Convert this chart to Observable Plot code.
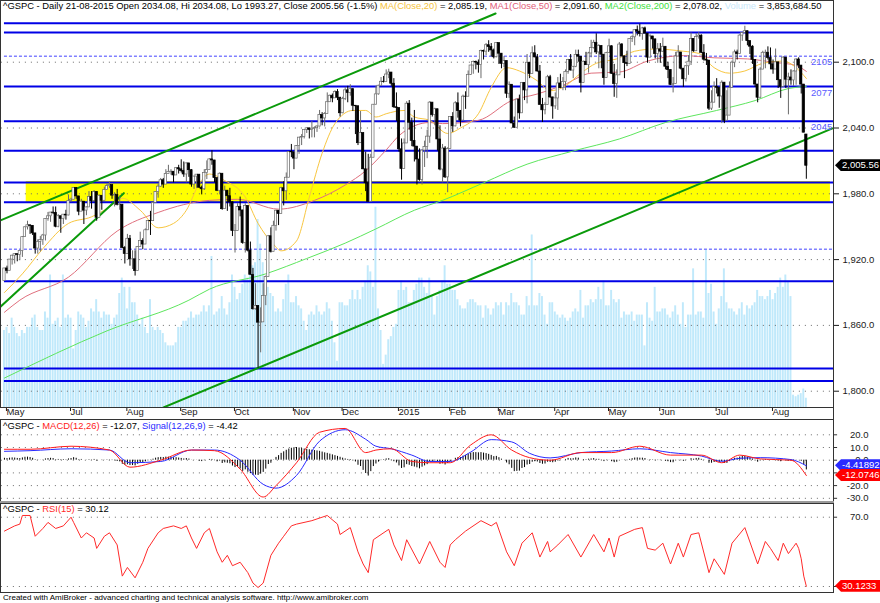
<!DOCTYPE html>
<html><head><meta charset="utf-8">
<script src="https://cdn.jsdelivr.net/npm/d3@7"></script>
<script src="https://cdn.jsdelivr.net/npm/@observablehq/plot@0.6"></script>
<style>
html,body{margin:0;padding:0;background:#fff;}
#wrap{position:relative;width:880px;height:603px;overflow:hidden;font-family:'Liberation Sans',Arial,Helvetica,sans-serif;}
.layer{position:absolute;left:0;}
.ttl{position:absolute;left:3px;font-size:9.4px;line-height:12px;white-space:nowrap;color:#000;}
.tag{position:absolute;left:835px;width:45px;height:12px;line-height:12px;font-size:9.5px;color:#fff;padding-left:7px;box-sizing:border-box;clip-path:polygon(0 50%,6px 0,100% 0,100% 100%,6px 100%);white-space:nowrap;}
.vline{position:absolute;left:833px;top:0;width:1px;height:593px;background:#333;}
.sep{position:absolute;left:0;top:501px;width:834px;height:2px;background:#9a9a9a;}
.foot{position:absolute;left:3px;top:593px;font-size:8px;line-height:10px;color:#000;white-space:nowrap;}
</style></head>
<body><div id="wrap"></div>
<script>
const FONT = "'Liberation Sans', Arial, Helvetica, sans-serif";

// ---------- price bars (daily, 27-05-2014 .. 21-08-2015) ----------
const closes = [1911.91,1909.78,1920.03,1923.57,
1924.97,1924.24,1927.88,1940.46,1949.44,1951.27,1950.79,1943.89,1930.11,1936.16,1937.78,1941.99,1956.98,1959.48,1962.87,1962.61,1949.98,1959.53,1957.22,1960.96,1960.23,
1973.32,1974.62,1985.44,1977.65,1963.71,1972.83,1964.68,1967.57,1977.10,1973.28,1981.57,1958.12,1978.22,1973.63,1983.53,1987.01,1987.98,1978.34,1978.91,1969.95,1970.07,1930.67,
1925.15,1938.99,1920.21,1920.24,1909.57,1931.59,1936.92,1933.75,1946.72,1955.18,1955.06,1971.74,1981.60,1986.51,1992.37,1988.40,1997.92,2000.02,2000.12,1996.74,2003.37,
2002.28,2000.72,1997.65,2007.71,2001.54,1988.44,1995.69,1997.45,1985.54,1984.13,1998.98,2001.57,2011.36,2010.40,1994.29,1982.77,1998.30,1965.99,1982.85,1977.80,1972.29,
1946.16,1946.17,1967.90,1964.82,1935.10,1968.89,1928.21,1906.13,1874.74,1877.70,1862.49,1862.76,1886.76,1904.01,1941.28,1927.11,1950.82,1964.58,1961.63,1985.05,1982.30,1994.65,2018.05,
2017.81,2012.10,2023.57,2031.21,2031.92,2038.26,2039.68,2038.25,2039.33,2039.82,2041.32,2051.80,2048.72,2052.75,2063.50,2069.41,2067.03,2072.83,2067.56,
2053.44,2066.55,2074.33,2071.92,2075.37,2060.31,2059.82,2026.14,2035.33,2002.33,1989.63,1972.74,2012.89,2061.23,2070.65,2078.54,2082.17,2081.88,2088.77,2090.57,2080.35,2058.90,
2058.20,2020.58,2002.61,2025.90,2062.14,2044.81,2028.26,2023.03,2011.27,1992.67,2019.42,2022.55,2032.12,2063.15,2051.82,2057.09,2029.55,2002.16,2021.25,1994.99,
2020.85,2050.03,2041.51,2062.52,2055.47,2046.74,2068.59,2068.53,2088.48,2096.99,2100.34,2099.68,2097.45,2110.30,2109.66,2115.48,2113.86,2110.74,2104.50,
2117.39,2107.78,2098.53,2101.04,2071.26,2079.43,2044.16,2040.24,2065.95,2053.40,2081.19,2074.28,2099.50,2089.27,2108.10,2104.42,2091.50,2061.05,2056.15,2061.02,2086.24,2067.89,
2059.69,2066.96,2080.62,2076.33,2081.90,2091.18,2102.06,2092.43,2095.84,2106.63,2104.99,2081.18,2100.40,2097.29,2107.96,2112.93,2117.69,2108.92,2114.76,2106.85,2085.51,
2108.29,2114.49,2089.46,2080.15,2088.00,2116.10,2105.33,2099.12,2098.48,2121.10,2122.73,2129.20,2127.83,2125.85,2130.82,2126.06,2104.20,2123.48,2120.79,2107.39,
2111.73,2109.60,2114.07,2095.84,2092.83,2079.28,2080.15,2105.20,2108.86,2094.11,2084.43,2096.29,2100.44,2121.24,2109.99,2122.85,2124.20,2108.58,2102.31,2101.49,2057.64,2063.11,
2077.42,2076.78,2068.76,2081.34,2046.68,2051.31,2076.62,2099.60,2108.95,2107.40,2124.29,2126.64,2128.28,2119.21,2114.15,2102.15,2079.65,2067.64,2093.25,2108.57,2108.63,2103.84,
2098.04,2093.32,2099.84,2083.56,2077.57,2104.18,2084.07,2086.05,2083.39,2091.54,2102.44,2096.92,2079.61,2035.73,2005.56];
const highs = [1912,1914,1920,1924,
1925,1925,1928,1941,1950,1955,1951,1950,1943,1938,1941,1943,1957,1963,1963,1968,1968,1961,1959,1961,1965,
1979,1976,1985.6,1984,1977,1975,1968,1968,1982,1982,1983,1982,1979,1976,1986,1989,1991,1988,1981,1984,1978,1970,
1932,1943,1942,1928,1928,1932,1945,1939,1948,1955,1964,1972,1982,1989,1994,1994,2002,2006,2002,1998,2004,
2006,2011,2009,2008,2007,2002,1996,1997,1996,1987,2002,2010,2012,2019.3,2010,1994,1999,1997,1987,1980,1985,
1972,1952,1971,1977,1965,1971,1968,1936,1912,1898,1878,1876,1898,1905,1942,1949,1955,1965,1964,1986,1991,1999,2018,
2025,2016,2024,2031,2034,2038,2040,2039,2046,2041,2042,2056,2054,2054,2072,2070,2071,2074,2075,
2068,2068,2077,2078,2079.5,2076,2060,2059,2055,2032,2018,2016,2016,2061,2078,2079,2086,2087,2093,2093.6,2088,2085,
2072,2054,2030,2030,2064,2065,2049,2056,2018,2021,2020,2028,2038,2064,2062,2058,2047,2042,2025,2023,
2022,2050,2054,2064,2072,2056,2070,2073,2092,2097,2101,2101,2102,2111,2111,2117,2119.6,2117,2112,
2117.5,2115,2107,2105,2100,2082,2076,2050,2066,2070,2081,2080,2107,2098,2114,2115,2107,2097,2067,2063,2088,2088,
2068,2072,2086,2089,2086,2093,2102.6,2107,2096,2111,2111,2095,2101,2109,2109,2120,2120,2125.9,2116,2113,2105,
2109,2121,2115,2098,2093,2118,2117,2105,2110,2121,2124,2129,2133,2134.7,2131.8,2132,2126,2125,2123,2121,
2117,2117,2121.9,2112,2100,2093,2086,2109,2115,2104,2094,2097,2106,2126.6,2121,2126,2127,2125,2116,2108,2095,2074,
2082,2085,2074,2083,2077,2074,2082,2101,2111,2111,2125,2127,2132.8,2128,2119,2115,2102,2078,2095,2110,2111,2114,
2113,2102,2112,2100,2082,2105,2103,2090,2093,2092,2103,2104,2097,2076.6,2034.08];
const lows = [1900,1907,1910,1915,
1916,1918,1919,1922,1941,1947,1943,1942,1925,1925,1927,1933,1937,1955,1954,1961,1949,1949,1944,1952,1956,
1960,1972,1975,1975,1960,1964,1952,1960,1969,1966,1975,1955,1959,1965,1975,1984,1985,1975,1968,1969,1965,1930,
1916,1925,1914,1911,1905,1910,1932,1929,1935,1947,1942,1957,1973,1976,1986,1985,1989,1998,1997,1990,1997,
1998,1999,1995,1990,1995,1986,1984,1985,1985,1979,1983,1993,2003,2006,1990,1982,1979,1965,1966,1964,1968,
1941,1926,1947,1959,1934,1926,1927,1906,1874,1874,1821,1835,1864,1878,1905,1926,1928,1946,1951,1962,1969,1974,2002,
2013,2002,2015,2016,2024,2030,2035,2030,2031,2031,2036,2041,2042,2041,2054,2064,2063,2067,2065,
2050,2053,2065,2063,2069,2055,2034,2024,2026,2002,1982,1972.6,1974,2018,2061,2070,2079,2081,2082,2085,2078,2058,
2046,2018,1992.4,2006,2026,2038,2023,2009,1988,1991.5,1988,2004,2012,2026,2050,2042,2019,2001,1990,1994,
1981,2022,2036,2041,2049,2041,2048,2057,2070,2088,2089,2093,2090,2085,2102,2106,2109,2105,2103,
2104,2098,2094,2095,2067,2067,2044,2039.7,2041,2048,2054,2065,2062,2085,2090,2104,2091,2061,2045,2052,2061,2067,
2048,2057,2056,2076,2074,2074,2089,2092,2085,2095,2100,2072,2081,2097,2090,2104,2112,2107,2094,2094,2079,
2086,2108,2089,2068,2067,2088,2105,2085,2096,2099,2118,2115,2124,2123,2120,2126,2099,2104,2112,2103,
2099,2099,2109,2093,2085,2079,2072,2080,2106,2093,2077,2082,2088,2097,2109,2112,2121,2108,2101,2097,2056,2056,
2067,2071,2058,2044,2044,2049,2057,2077,2095,2102,2110,2119,2127,2115,2107,2098,2077,2063,2067,2094,2094,2102,
2093,2089,2095,2076,2067,2078,2076,2052,2079,2078,2079,2094,2071,2035.6,1993.27];
const firstOpen = 1900.53;
const lastOpen = 2034.08;
// volume, billions of shares
const volumes = [2.5,2.6,2.4,2.9,
2.6,2.4,2.3,2.5,2.4,2.6,2.6,2.9,3.0,2.6,2.5,2.5,3.1,2.9,4.3,2.7,2.8,2.9,2.6,4.3,2.9,
3.0,2.9,1.9,2.5,3.1,3.0,2.9,2.6,2.8,3.2,3.1,3.5,3.1,2.9,3.1,3.0,3.0,2.7,2.9,3.0,3.7,4.2,
3.9,3.2,3.9,3.4,3.4,3.0,2.7,2.9,2.6,2.4,3.5,2.6,2.5,2.6,2.5,2.4,2.1,2.0,2.0,2.0,2.1,
2.6,2.6,2.8,2.8,2.9,3.1,2.9,3.0,3.0,3.1,3.3,3.1,3.3,4.9,3.0,3.1,3.2,3.6,3.2,3.0,3.4,
4.3,3.9,3.5,3.7,4.0,4.3,4.2,4.8,4.6,4.7,6.1,5.3,4.7,3.6,3.9,3.7,3.6,3.1,3.2,3.1,3.5,4.0,4.3,
3.4,3.4,3.6,3.3,3.2,2.8,2.5,3.0,3.1,3.0,3.3,3.1,3.0,3.1,3.4,3.2,2.8,2.1,1.5,
3.4,3.4,3.3,3.3,3.5,3.8,3.5,3.8,3.5,3.9,4.1,4.6,4.4,3.9,6.5,3.2,2.5,1.4,1.7,2.2,2.3,2.6,
2.7,3.8,4.1,3.8,3.9,3.4,3.4,3.8,4.0,4.2,4.2,3.9,3.7,4.2,3.6,3.0,3.6,3.8,4.1,4.6,
4.0,4.0,3.8,3.8,3.5,3.3,3.2,3.2,3.4,3.5,3.5,3.4,3.3,3.3,2.9,3.3,3.2,3.0,3.2,
3.4,3.3,3.4,3.0,3.4,3.3,3.7,3.4,3.4,3.3,3.0,3.0,3.6,3.3,5.6,3.3,3.3,3.7,3.6,3.0,2.7,3.4,
3.4,3.1,3.0,2.9,3.0,2.9,2.8,2.9,3.1,3.2,3.1,3.8,2.9,3.3,3.3,3.5,3.4,3.5,3.9,3.5,4.1,
3.3,3.3,3.8,3.5,3.4,3.5,2.9,3.1,3.0,3.0,3.1,2.8,3.0,3.0,3.0,2.0,3.4,2.9,2.8,3.9,
3.1,3.1,3.2,3.2,3.0,2.9,3.1,3.3,3.0,2.7,3.4,2.6,3.0,3.0,4.5,3.0,3.1,3.1,2.9,5.1,3.7,4.0,
3.1,2.7,3.2,3.6,4.5,3.4,3.2,3.2,3.1,3.0,3.2,3.4,3.0,3.3,3.2,3.3,3.4,3.8,3.6,3.6,3.5,3.6,
3.8,3.5,3.7,3.9,4.2,3.9,4.3,4.1,3.6,0.4,0.35,0.4,0.45,0.6,0.3];

// ---------- x axis (bar index of each month's first bar) ----------
const monthTickIdx = [0,25,47,68,89,112,131,153,173,192,214,235,255,277,299];
const monthTickLabels = ["May","Jul","Aug","Sep","Oct","Nov","Dec","2015","Feb","Mar","Apr","May","Jun","Jul","Aug"];

// ---------- moving averages (read at sample bars) ----------
const ma20Idx = [0,7,15,25,34,41,46,53,60,66,71,76,80,86,94,99,105,108,114,119,124,129,136,141,145,149,156,160,166,173,178,185,190,196,201,208,213,218,225,231,239,246,254,265,271,277,283,289,296,304,309,313];
const ma20Val = [1890,1907,1930,1953,1959,1968,1976,1965,1949,1953,1965,1989,1998,1992,1977,1953,1934,1928,1937,1977,2017,2044,2056,2056,2050,2053,2056,2050,2047,2035,2040,2053,2077,2095,2092,2083,2074,2077,2090,2099,2103,2110,2112,2110,2108,2095,2090,2092,2099,2101,2095,2085.19];
const ma50Idx = [0,6,25,44,60,80,91,107,121,133,141,149,154,160,166,171,185,198,208,218,229,240,251,265,277,290,300,309,313];
const ma50Val = [1872,1883,1904,1946,1963,1974,1975,1966,1974,1988,2001,2020,2033,2042,2045,2044,2047,2065,2071,2079,2090,2091,2101,2106,2104,2103,2100,2097,2091.6];
const ma200Idx = [0,40,72,80,102,118,133,145,160,171,187,204,222,240,258,278,293,306,313];
const ma200Val = [1812,1855,1883,1893,1907,1921,1935,1948,1965,1974,1990,2007,2019,2030,2045,2056,2065,2076,2078.02];

// ---------- drawn studies ----------
const solidLevels = [2135.6,2127.1,2077.8,2046.2,2019.3,1990.4,1972.4,1900.2,1820.7,1809.2];
const dashedLevels = [2105.5,1929.4];
const levelLabelText = ["2105","2077","2045"];
const levelLabelValue = [2105.5,2077.8,2046.2];
const zoneLow = 1971.6, zoneHigh = 1991.2, zoneStartIdx = 8.5, zoneEndIdx = 322.4;
const trendUpperIdx = [-1.54,191.7], trendUpperVal = [1955.7,2144.4];
const trendLowerIdx = [62.1,323.2], trendLowerVal = [1785.2,2039.6];
const trendSteepIdx = [-1.54,46.6], trendSteepVal = [1877.0,1980.6];
const priceTicks = [1800,1860,1920,1980,2040,2100];

// ---------- MACD(12,26) / Signal(9) ----------
const macdIdx = [0,10,26,41,49,61,73,82,92,101,106,114,123,133,141,145,151,159,166,174,182,190,198,205,213,225,237,248,260,272,280,287,295,307,313];
const macdVal = [8.6,8.6,11,8,-5.5,0,8,7.5,-7,-29,-20,-2,22,25,6,8,9,-1,-2,-2,12,20,8,2,0,6,6,11,4,4,-2,4,1,0,-12.07];
const signalVal = [7,7.5,9,8,-2,-1,8,8,0,-19,-22,-12,15,24,16.5,11,9,4,-1,-1,6.4,16.2,14.4,5.4,1.8,6,7.2,9,6,3.3,-0.9,1.5,2,0.5,-4.42];
// histogram (MACD - Signal), one value per bar
const histVal = [1.5,1.3,1.6,1.8,1.7,1.4,1.3,1.8,2.3,2.4,2.1,
1.5,0.4,0.2,0.1,0.2,1.0,1.3,1.5,1.3,0.4,0.6,0.4,0.5,0.3,1.0,
1.3,2.0,1.5,0.4,0.6,0.0,-0.1,0.4,0.2,0.6,-0.7,0.0,-0.3,0.1,0.3,0.2,
-0.3,-0.5,-1.0,-1.3,-3.2,-4.0,-3.6,-4.2,
-4.2,-4.5,-3.2,-2.4,-2.1,-1.3,-0.5,-0.2,0.8,1.6,2.0,2.2,
2.1,2.4,2.4,2.3,1.9,2.0,1.7,1.4,1.0,1.3,0.9,-0.1,
-0.1,-0.1,-0.8,-1.1,-0.4,0.0,0.6,0.6,-0.4,
-1.3,-0.7,-2.6,-2.1,-2.4,-2.8,-4.6,-5.8,-5.2,-7.0,
-8.8,-7.6,-9.5,-10.6,-12.0,-11.8,-12.0,-11.0,-9.6,
-7.0,-3.4,-2.4,0.2,2.2,3.6,5.4,6.6,7.8,8.8,9.4,9.8,10.0,
9.6,9.2,8.8,8.5,8.2,7.9,7.6,7.3,7.0,6.4,5.8,5.4,4.8,4.2,3.6,3.0,2.3,1.6,1.0,
0.6,0.5,-0.6,-1.4,-4.0,-5.0,-8.0,-10.5,-12.5,-9.0,-5.0,-3.0,
-1.5,-0.3,0.4,1.0,1.2,0.3,-1.2,-2.2,-4.5,-6.5,-6.0,-3.5,-4.0,-5.0,
-5.4,-6.0,-6.8,-5.5,-4.5,-3.5,-1.5,-1.0,-0.6,-1.6,-3.2,-2.8,-3.8,-2.6,-1.0,
0.0,1.5,2.0,2.0,3.2,3.8,4.8,5.6,6.0,6.0,5.8,6.0,5.6,5.2,4.6,3.8,
2.8,3.0,2.0,0.8,0.0,-2.2,-3.6,-6.4,-9.0,-8.8,-8.6,-6.5,-5.8,-3.8,-3.4,
-1.6,-1.2,-1.4,-2.6,-3.2,-3.0,-1.6,-1.8,-2.0,-1.6,-0.6,-0.4,0.0,0.6,1.4,1.1,1.2,1.8,1.6,0.0,
0.5,0.4,0.8,1.0,1.3,0.7,0.7,0.2,-1.1,-0.3,0.1,-1.2,-1.9,-1.6,0.0,0.1,-0.2,-0.4,0.7,1.2,1.7,1.8,1.6,
1.6,1.3,-0.1,0.4,0.3,-0.4,-0.3,-0.3,0.0,-0.9,-1.2,-1.9,-2.0,-0.6,0.1,-0.4,-0.9,-0.3,0.0,1.2,0.8,1.4,1.5,0.7,
0.2,0.0,-2.4,-2.4,-1.8,-1.6,-1.8,-1.1,-2.6,-2.5,-1.1,0.4,1.5,1.6,2.5,
2.9,3.0,2.4,1.8,0.9,-0.6,-1.6,-0.6,0.2,0.6,0.5,0.1,-0.3,0.0,-0.8,-1.2,0.1,-0.7,-0.8,-0.9,-0.5,0.2,0.0,-0.9,-3.7,-7.65];
const macdTicks = [20,10,0,-10,-20,-30];
const macdTickLabels = [20,10,0,-20,-30];

// ---------- RSI(15) ----------
const rsiIdx = [0,4,6,7,10,12,15,17,20,23,26,27,30,32,35,36,39,41,44,46,48,51,54,56,60,62,66,69,71,73,75,78,80,83,85,87,89,92,95,97,99,101,104,107,109,112,114,120,126,130,131,135,138,140,142,144,150,152,155,157,162,166,170,172,174,176,180,186,190,192,196,199,202,206,209,212,213,216,220,225,230,234,236,238,240,246,249,251,254,257,260,263,265,268,271,275,277,281,284,289,294,297,299,302,304,306,308,309,310,311,312,313];
const rsiVal = [62,65,66,71,71,59,63.5,67,63.5,65,70,67,58,61,58,52,59,61,54,36,41,35,44,52,61,63.5,65,63.5,65,58,52,61,63.5,50,44,48,42,44,38,32,29.4,32,48,55,59,65,66,68,71,66,60,64,50,43,38,57,63,54,45,57,43,56,44,41,54,57,62,68,65,67,50,42,55,61,47,56,50,54,60,47,60,50,58,47,59,63,64,52,51,55,43,55,47,60,61,38,46,37,55,64,43,56,52,45,55,49,53,55,52,46,36,30.12];
const rsiTicks = [70,30];
const rsiTickLabels = [70];

// ---------- build tables ----------
const bars = closes.map((c, i) => {
  const open = i === 0 ? firstOpen : (i === closes.length - 1 ? lastOpen : closes[i - 1]);
  return {i, open, close: c, high: Math.max(highs[i], open, c), low: Math.min(lows[i], open, c), vol: volumes[i], hist: histVal[i]};
});
const pts = (ix, vals) => ix.map((i, k) => ({i, v: vals[k]}));
const ma20 = pts(ma20Idx, ma20Val), ma50 = pts(ma50Idx, ma50Val), ma200 = pts(ma200Idx, ma200Val);
const macd = pts(macdIdx, macdVal), signal = pts(macdIdx, signalVal);
const rsi = pts(rsiIdx, rsiVal);
const labelByIdx = new Map(monthTickIdx.map((i, k) => [i, monthTickLabels[k]]));

const xDomain = [-1.54, 323.6];
const W = 880, MR = 47;
const baseStyle = {background: "transparent", fontFamily: FONT, fontSize: "9.5px", color: "#1a1a1a", overflow: "visible"};
const wrap = document.getElementById("wrap");
function place(node, top) { node.classList.add("layer"); node.style.top = top + "px"; wrap.appendChild(node); return node; }
const fmt1 = d => d.toFixed(1);
// right-hand scale labels and ticks, drawn just outside the plotting frame
const rightLabels = (values) => Plot.text(values, {x: () => xDomain[1], y: d => d, text: d => fmt1(d), dx: 35, textAnchor: "end", fontSize: 9.5, fill: "#1a1a1a"});
const rightTicks = (values) => Plot.ruleY(values, {x1: () => xDomain[1], x2: () => xDomain[1] + 1.6, stroke: "#333"});

// volume layer
const volPlot = Plot.plot({
  width: W, height: 419, marginLeft: 0, marginRight: MR, marginTop: 0, marginBottom: 12,
  style: baseStyle,
  x: {type: "linear", domain: xDomain, axis: null},
  y: {domain: [0, 13.21], axis: null},
  marks: [
    Plot.rect(bars, {x1: d => d.i - 0.38, x2: d => d.i + 0.38, y1: 0, y2: "vol", fill: "#c0e9fb"})
  ]
});
place(volPlot, 0);

// price layer
const pricePlot = Plot.plot({
  width: W, height: 419, marginLeft: 0, marginRight: MR, marginTop: 0, marginBottom: 12,
  style: baseStyle,
  x: {type: "linear", domain: xDomain, axis: null},
  y: {domain: [1785.14, 2156.26], axis: null},
  marks: [
    Plot.rect([{x1: zoneStartIdx, x2: zoneEndIdx, y1: zoneLow, y2: zoneHigh}], {x1: "x1", x2: "x2", y1: "y1", y2: "y2", fill: "#ffff00"}),
    Plot.ruleY(priceTicks, {x1: () => -1.2, x2: () => xDomain[1], stroke: "#6a6a6a", strokeDasharray: "1,5"}),
    Plot.ruleY(dashedLevels, {x1: () => 0, x2: () => xDomain[1], stroke: "#8080ff", strokeWidth: 1.5, strokeDasharray: "3,2"}),
    Plot.ruleY(solidLevels, {x1: () => 0, x2: () => xDomain[1], stroke: "#0000e6", strokeWidth: 2}),
    Plot.line(ma200, {x: "i", y: "v", stroke: "#5ee65e", strokeWidth: 1, curve: "monotone-x"}),
    Plot.line(ma50, {x: "i", y: "v", stroke: "#e0707e", strokeWidth: 1, curve: "monotone-x"}),
    Plot.line(ma20, {x: "i", y: "v", stroke: "#f8c640", strokeWidth: 1, curve: "monotone-x"}),
    Plot.line(pts(trendUpperIdx, trendUpperVal), {x: "i", y: "v", stroke: "#0a9a0a", strokeWidth: 2, clip: true}),
    Plot.line(pts(trendLowerIdx, trendLowerVal), {x: "i", y: "v", stroke: "#0a9a0a", strokeWidth: 2, clip: true}),
    Plot.line(pts(trendSteepIdx, trendSteepVal), {x: "i", y: "v", stroke: "#0a9a0a", strokeWidth: 2, clip: true}),
    Plot.ruleX(bars, {x: "i", y1: "low", y2: "high", stroke: d => d.close >= d.open ? "#6a6a6a" : "#000", strokeWidth: 1}),
    Plot.rect(bars, {x1: d => d.i - 0.45, x2: d => d.i + 0.45, y1: "open", y2: "close",
      fill: d => d.close >= d.open ? "#fff" : "#000", stroke: d => d.close >= d.open ? "#6a6a6a" : "#000", strokeWidth: 0.7}),
    Plot.text(levelLabelText.map((t, k) => ({t, v: levelLabelValue[k]})), {x: () => 323.1, y: "v", text: "t", textAnchor: "end", dy: 6, fill: "#5a5aff", fontSize: 9.5}),
    Plot.axisY({anchor: "right", ticks: priceTicks, tickFormat: d3.format(",.1f"), tickSize: 5, tickPadding: 4, fontSize: 9.5}),
    Plot.axisX(monthTickIdx, {anchor: "bottom", tickSize: 4, tickPadding: -3, textAnchor: "start", dx: 2, tickFormat: d => labelByIdx.get(d), fontSize: 9.5}),
    Plot.frame({stroke: "#333"})
  ]
});
place(pricePlot, 0);

// MACD pane
const macdPlot = Plot.plot({
  width: W, height: 82, marginLeft: 0, marginRight: MR, marginTop: 0, marginBottom: 0,
  style: baseStyle,
  x: {type: "linear", domain: xDomain, axis: null},
  y: {domain: [-32.52, 32.05], axis: null},
  marks: [
    Plot.ruleY(macdTicks, {x1: () => -1.2, x2: () => xDomain[1], stroke: "#6a6a6a", strokeDasharray: "1,5"}),
    Plot.ruleX(bars, {x: "i", y1: 0, y2: "hist", stroke: "#000", strokeWidth: 1}),
    Plot.line(signal, {x: "i", y: "v", stroke: "#2a2aff", strokeWidth: 1, curve: "monotone-x"}),
    Plot.line(macd, {x: "i", y: "v", stroke: "#ff1a1a", strokeWidth: 1, curve: "monotone-x"}),
    rightTicks(macdTicks),
    rightLabels(macdTickLabels),
    Plot.frame({stroke: "#333"})
  ]
});
place(macdPlot, 419);

// RSI pane
const rsiPlot = Plot.plot({
  width: W, height: 89, marginLeft: 0, marginRight: MR, marginTop: 0, marginBottom: 0,
  style: baseStyle,
  x: {type: "linear", domain: xDomain, axis: null},
  y: {domain: [26.54, 77.91], axis: null},
  marks: [
    Plot.ruleY(rsiTicks, {x1: () => -1.2, x2: () => xDomain[1], stroke: "#6a6a6a", strokeDasharray: "1,5"}),
    Plot.line(rsi, {x: "i", y: "v", stroke: "#ff2a2a", strokeWidth: 1}),
    rightTicks(rsiTicks),
    rightLabels(rsiTickLabels),
    Plot.frame({stroke: "#333"})
  ]
});
place(rsiPlot, 503);

// decorations
const add = (cls, html, css) => { const d = document.createElement("div"); d.className = cls; if (html) d.innerHTML = html; Object.assign(d.style, css || {}); wrap.appendChild(d); return d; };
add("vline");
add("sep");

// value tags at the right edge, positioned through each pane's y scale
function tag(plot, top, value, text, bg) {
  const y = plot.scale("y").apply(value) + top;
  add("tag", text, {top: (y - 6) + "px", background: bg});
}
tag(pricePlot, 0, closes[closes.length - 1], "2,005.56", "#000");
tag(macdPlot, 419, signalVal[signalVal.length - 1], "-4.41892", "#2a2aff");
tag(macdPlot, 419, macdVal[macdVal.length - 1], "-12.0746", "#ff0000");
tag(rsiPlot, 503, rsiVal[rsiVal.length - 1], "30.1233", "#ff0000");

// titles
add("ttl", '^GSPC - Daily 21-08-2015 Open 2034.08, Hi 2034.08, Lo 1993.27, Close 2005.56 (-1.5%) <span style="color:#f5c23c">MA(Close,20)</span> = 2,085.19, <span style="color:#e0607a">MA1(Close,50)</span> = 2,091.60, <span style="color:#3ee03e">MA2(Close,200)</span> = 2,078.02, <span style="color:#c8e8fa">Volume</span> = 3,853,684.50', {top: "0px"});
add("ttl", '^GSPC - <span style="color:#ff1a1a">MACD(12,26)</span> = -12.07, <span style="color:#2a2aff">Signal(12,26,9)</span> = -4.42', {top: "420px"});
add("ttl", '^GSPC - <span style="color:#ff2a2a">RSI(15)</span> = 30.12', {top: "503px"});
add("foot", "Created with AmiBroker - advanced charting and technical analysis software. http://www.amibroker.com");
</script></body></html>
